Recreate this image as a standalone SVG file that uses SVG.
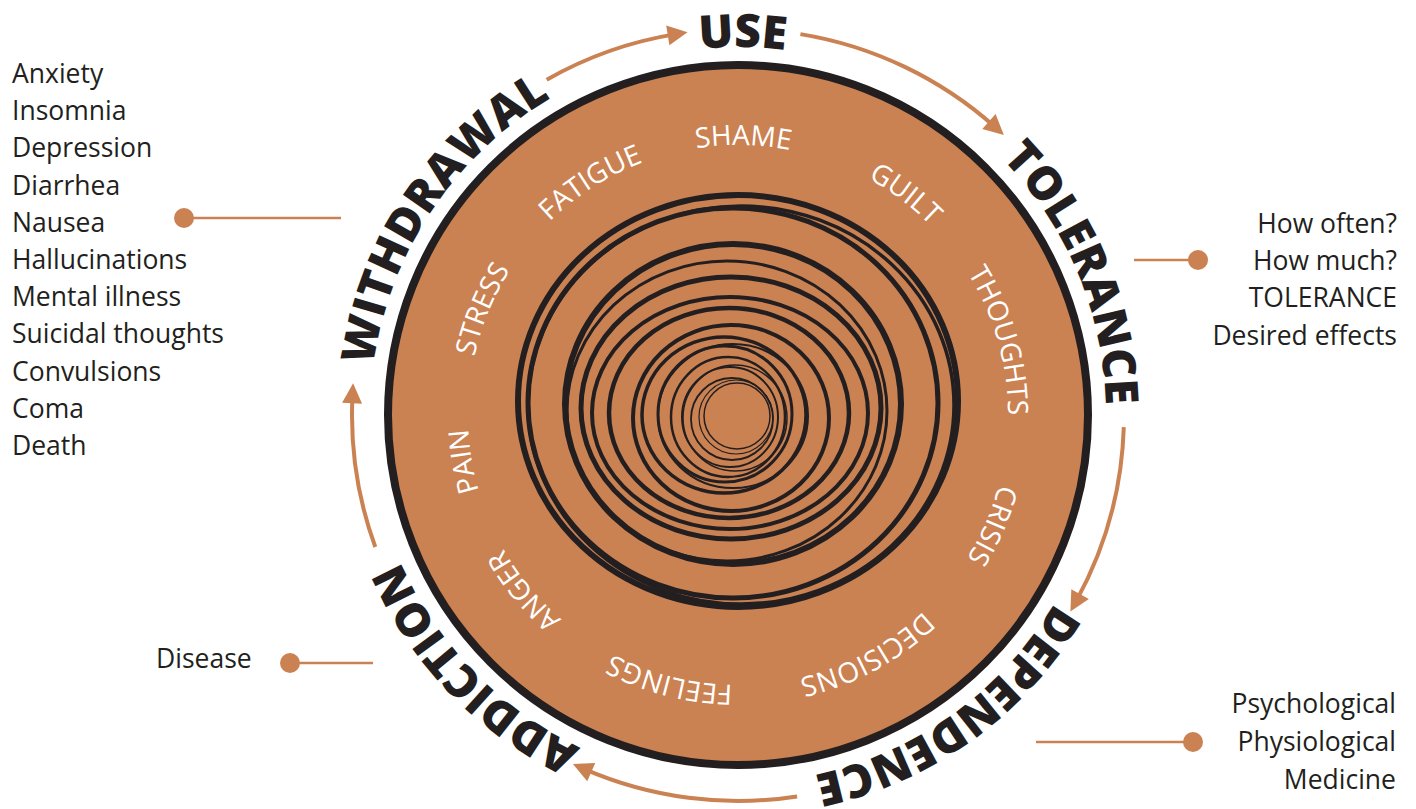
<svg xmlns="http://www.w3.org/2000/svg" xmlns:xlink="http://www.w3.org/1999/xlink" width="1416" height="809" viewBox="0 0 1416 809">
<style>
.list{font-family:"Open Sans","Noto Sans","Liberation Sans",sans-serif;font-size:26.5px;fill:#231F20}
.stage{font-family:"Open Sans","Noto Sans","Liberation Sans",sans-serif;font-weight:800;font-size:46px;fill:#231F20}
.inner{font-family:"Open Sans","Noto Sans","Liberation Sans",sans-serif;font-size:28px;fill:#FFFFFF}
.arrow{fill:none;stroke:#CB8253;stroke-width:4;marker-end:url(#ah)}
.lead{stroke:#CB8253;stroke-width:2.5}
.dot{fill:#CB8253}
.ring{fill:none;stroke:#231F20}
</style>
<defs>
<marker id="ah" viewBox="-10 -12 24 24" refX="0" refY="0" markerWidth="24" markerHeight="24" markerUnits="userSpaceOnUse" orient="auto">
<path d="M12,0 L-8,-10 L-8,10 Z" fill="#CB8253"/>
</marker>
<path id="outerPath" d="M1106,415 A368,368 0 1 1 370,415 A368,368 0 1 1 1106,415 A368,368 0 1 1 370,415 A368,368 0 1 1 1106,415"/>
<path id="innerPath" d="M1008,415 A270,270 0 1 1 468,415 A270,270 0 1 1 1008,415 A270,270 0 1 1 468,415 A270,270 0 1 1 1008,415"/>
</defs>
<rect width="1416" height="809" fill="#FFFFFF"/>

<g id="wheel">
<circle cx="738" cy="415" r="350" fill="#CB8253" stroke="#231F20" stroke-width="8"/>
</g>

<g id="spiral">
<ellipse class="ring" cx="738" cy="401" rx="220" ry="206" stroke-width="6"/>
<ellipse class="ring" cx="741" cy="405" rx="213" ry="199" stroke-width="3.5"/>
<ellipse class="ring" cx="733" cy="403" rx="205" ry="195" stroke-width="5"/>
<ellipse class="ring" cx="733" cy="404" rx="168" ry="160" stroke-width="6"/>
<ellipse class="ring" cx="727" cy="411" rx="160" ry="150" stroke-width="3"/>
<ellipse class="ring" cx="731" cy="408" rx="150" ry="131" stroke-width="5"/>
<ellipse class="ring" cx="730" cy="413" rx="138" ry="116" stroke-width="4"/>
<ellipse class="ring" cx="729" cy="413" rx="120" ry="105" stroke-width="4.5"/>
<ellipse class="ring" cx="731" cy="418" rx="98" ry="93" stroke-width="4"/>
<ellipse class="ring" cx="724" cy="415" rx="82" ry="78" stroke-width="3.5"/>
<ellipse class="ring" cx="733" cy="416" rx="75" ry="72" stroke-width="2"/>
<ellipse class="ring" cx="725" cy="414" rx="67" ry="68" stroke-width="3"/>
<ellipse class="ring" cx="728" cy="417" rx="57" ry="60" stroke-width="2.5"/>
<ellipse class="ring" cx="735" cy="418" rx="52" ry="53" stroke-width="1.5"/>
<ellipse class="ring" cx="730" cy="417" rx="48" ry="50" stroke-width="2"/>
<ellipse class="ring" cx="732" cy="419" rx="41" ry="41" stroke-width="1.8"/>
<ellipse class="ring" cx="736" cy="417" rx="37" ry="37" stroke-width="1.2"/>
<ellipse class="ring" cx="737" cy="416" rx="33" ry="33" stroke-width="1.5"/>
</g>

<g id="inner-labels">
<text class="inner" text-anchor="middle"><textPath xlink:href="#innerPath" href="#innerPath" startOffset="1277.1">SHAME</textPath></text>
<text class="inner" text-anchor="middle"><textPath xlink:href="#innerPath" href="#innerPath" startOffset="1446.7">GUILT</textPath></text>
<text class="inner" text-anchor="middle"><textPath xlink:href="#innerPath" href="#innerPath" startOffset="1621.1">THOUGHTS</textPath></text>
<text class="inner" text-anchor="middle"><textPath xlink:href="#innerPath" href="#innerPath" startOffset="110.7">CRISIS</textPath></text>
<text class="inner" text-anchor="middle"><textPath xlink:href="#innerPath" href="#innerPath" startOffset="290.8">DECISIONS</textPath></text>
<text class="inner" text-anchor="middle"><textPath xlink:href="#innerPath" href="#innerPath" startOffset="492.0">FEELINGS</textPath></text>
<text class="inner" text-anchor="middle"><textPath xlink:href="#innerPath" href="#innerPath" startOffset="662.1">ANGER</textPath></text>
<text class="inner" text-anchor="middle"><textPath xlink:href="#innerPath" href="#innerPath" startOffset="802.5">PAIN</textPath></text>
<text class="inner" text-anchor="middle"><textPath xlink:href="#innerPath" href="#innerPath" startOffset="953.8">STRESS</textPath></text>
<text class="inner" text-anchor="middle"><textPath xlink:href="#innerPath" href="#innerPath" startOffset="1119.2">FATIGUE</textPath></text>
</g>

<g id="stage-use"><text class="stage" text-anchor="middle"><textPath xlink:href="#outerPath" href="#outerPath" startOffset="1738.0">USE</textPath></text></g>
<g id="stage-tolerance"><text class="stage" text-anchor="middle"><textPath xlink:href="#outerPath" href="#outerPath" startOffset="2164.5">TOLERANCE</textPath></text></g>
<g id="stage-dependence"><text class="stage" text-anchor="middle"><textPath xlink:href="#outerPath" href="#outerPath" startOffset="348.8">DEPENDENCE</textPath></text></g>
<g id="stage-addiction"><text class="stage" text-anchor="middle"><textPath xlink:href="#outerPath" href="#outerPath" startOffset="872.9">ADDICTION</textPath></text></g>
<g id="stage-withdrawal"><text class="stage" text-anchor="middle"><textPath xlink:href="#outerPath" href="#outerPath" startOffset="1371.3">WITHDRAWAL</textPath></text></g>

<g id="connectors">
<path class="arrow" d="M546.7,79.7 A386,386 0 0 1 675.7,34.1"/>
<path class="arrow" d="M800.4,34.1 A386,386 0 0 1 994.9,126.9"/>
<path class="arrow" d="M1123.8,427.1 A386,386 0 0 1 1076.2,601.1"/>
<path class="arrow" d="M797.1,796.4 A386,386 0 0 1 583.9,768.9"/>
<path class="arrow" d="M375.3,547.0 A386,386 0 0 1 352.5,395.3"/>
<line class="lead" x1="184" y1="218" x2="341" y2="218"/>
<line class="lead" x1="1134" y1="260" x2="1198" y2="260"/>
<line class="lead" x1="290" y1="663" x2="373" y2="663"/>
<line class="lead" x1="1036" y1="742" x2="1193" y2="742"/>
<circle class="dot" cx="184" cy="218" r="10"/>
<circle class="dot" cx="1198" cy="260" r="10"/>
<circle class="dot" cx="290" cy="663" r="10"/>
<circle class="dot" cx="1193" cy="742" r="10"/>
</g>

<g id="withdrawal-symptoms">
<text class="list" x="12" y="83">Anxiety</text>
<text class="list" x="12" y="120.2">Insomnia</text>
<text class="list" x="12" y="157.4">Depression</text>
<text class="list" x="12" y="194.6">Diarrhea</text>
<text class="list" x="12" y="231.8">Nausea</text>
<text class="list" x="12" y="269">Hallucinations</text>
<text class="list" x="12" y="306.2">Mental illness</text>
<text class="list" x="12" y="343.4">Suicidal thoughts</text>
<text class="list" x="12" y="380.6">Convulsions</text>
<text class="list" x="12" y="417.8">Coma</text>
<text class="list" x="12" y="455">Death</text>
</g>

<g id="tolerance-notes">
<text class="list" x="1397" y="233" text-anchor="end">How often?</text>
<text class="list" x="1397" y="270" text-anchor="end">How much?</text>
<text class="list" x="1397" y="307.3" text-anchor="end">TOLERANCE</text>
<text class="list" x="1397" y="345" text-anchor="end">Desired effects</text>
</g>

<g id="addiction-note">
<text class="list" x="156" y="668">Disease</text>
</g>

<g id="dependence-notes">
<text class="list" x="1396" y="713" text-anchor="end">Psychological</text>
<text class="list" x="1396" y="751" text-anchor="end">Physiological</text>
<text class="list" x="1396" y="788.5" text-anchor="end">Medicine</text>
</g>
</svg>
